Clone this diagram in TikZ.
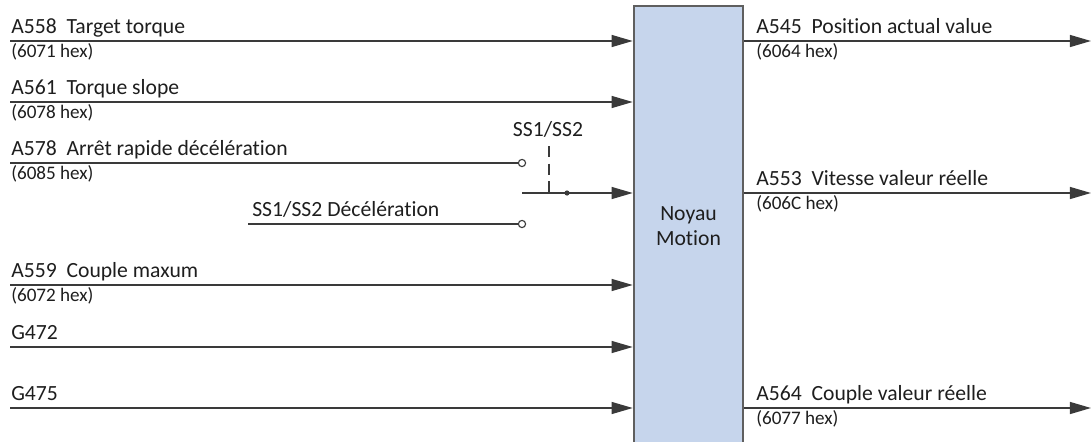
\documentclass[tikz,border=0pt]{standalone}
\usepackage{fontspec}
\setmainfont{Carlito}[Ligatures=NoCommon]
\usetikzlibrary{arrows.meta,positioning}
\definecolor{CoreBlue}{HTML}{C6D5EC}
\definecolor{CoreEdge}{HTML}{5F5F5F}
\definecolor{WireGray}{HTML}{3A3A3A}
\definecolor{InkDark}{HTML}{1E1E1E}

\begin{document}
\begin{tikzpicture}[
    x=0.025cm, y=-0.025cm,
    >={Triangle[length=0.53cm, width=0.3cm]},
    every node/.style={text=InkDark},
    core/.style={draw=CoreEdge, line width=1.8pt, fill=CoreBlue, align=center, minimum width=2.725cm, minimum height=11cm, font=\fontsize{15.4}{18}\selectfont},
    sig/.style={anchor=base west, inner sep=0pt, font=\fontsize{15.4}{18}\selectfont},
    hex/.style={anchor=base west, inner sep=0pt, font=\fontsize{13.6}{15}\selectfont},
    wire/.style={draw=WireGray, line width=1.1pt},
    contact/.style={circle, draw=WireGray, fill=white, line width=0.8pt, inner sep=0pt, minimum size=0.18cm},
    joint/.style={circle, fill=WireGray, inner sep=0pt, minimum size=0.13cm}
]
\useasboundingbox (0,0) rectangle (1092,441);
\node[core] (core) at (688.5,226) {Noyau\\Motion};

\coordinate (i1) at (10,41);
\coordinate (i2) at (10,102);
\coordinate (i3) at (10,163);
\coordinate (i4) at (248,224);
\coordinate (i5) at (10,285);
\coordinate (i6) at (10,347);
\coordinate (i7) at (10,408);
\coordinate (sw) at (522,193);
\coordinate (act) at (549,146);
\node[contact] (k1) at (522,163) {};
\node[contact] (k2) at (522,224) {};

\draw[wire, ->] (i1) -- (i1 -| core.west);
\draw[wire, ->] (i2) -- (i2 -| core.west);
\draw[wire] (i3) -- (k1);
\draw[wire] (i4) -- (k2);
\draw[wire, ->] (sw) -- (sw -| core.west);
\draw[wire, ->] (i5) -- (i5 -| core.west);
\draw[wire, ->] (i6) -- (i6 -| core.west);
\draw[wire, ->] (i7) -- (i7 -| core.west);
\draw[draw=WireGray, line width=1.1pt, dash pattern=on 0.28cm off 0.16cm] (act) -- (act |- sw);
\node[joint] (j) at (567,193) {};
\node[sig, anchor=base] (sel) at (548,136) {SS1/SS2};

\node[sig] (n558) at (11,33) {A558~~Target torque};
\node[hex] (h6071) at (11,57) {(6071 hex)};
\node[sig] (n561) at (11,94) {A561~~Torque slope};
\node[hex] (h6078) at (11,118) {(6078 hex)};
\node[sig] (n578) at (11,155) {A578~~Arrêt rapide décélération};
\node[hex] (h6085) at (11,179) {(6085 hex)};
\node[sig] (ndec) at (252,216) {SS1/SS2 Décélération};
\node[sig] (n559) at (11,277) {A559~~Couple maxum};
\node[hex] (h6072) at (11,301) {(6072 hex)};
\node[sig] (g472) at (11,339) {G472};
\node[sig] (g475) at (11,400) {G475};

\coordinate (o1) at (1091,41);
\coordinate (o2) at (1091,193);
\coordinate (o3) at (1091,408);
\draw[wire, ->] (core.east |- o1) -- (o1);
\draw[wire, ->] (core.east |- o2) -- (o2);
\draw[wire, ->] (core.east |- o3) -- (o3);

\node[sig] (n545) at (756,33) {A545~~Position actual value};
\node[hex] (h6064) at (756,57) {(6064 hex)};
\node[sig] (n553) at (756,185) {A553~~Vitesse valeur réelle};
\node[hex] (h606c) at (756,209) {(606C hex)};
\node[sig] (n564) at (756,400) {A564~~Couple valeur réelle};
\node[hex] (h6077) at (756,424) {(6077 hex)};
\end{tikzpicture}
\end{document}
